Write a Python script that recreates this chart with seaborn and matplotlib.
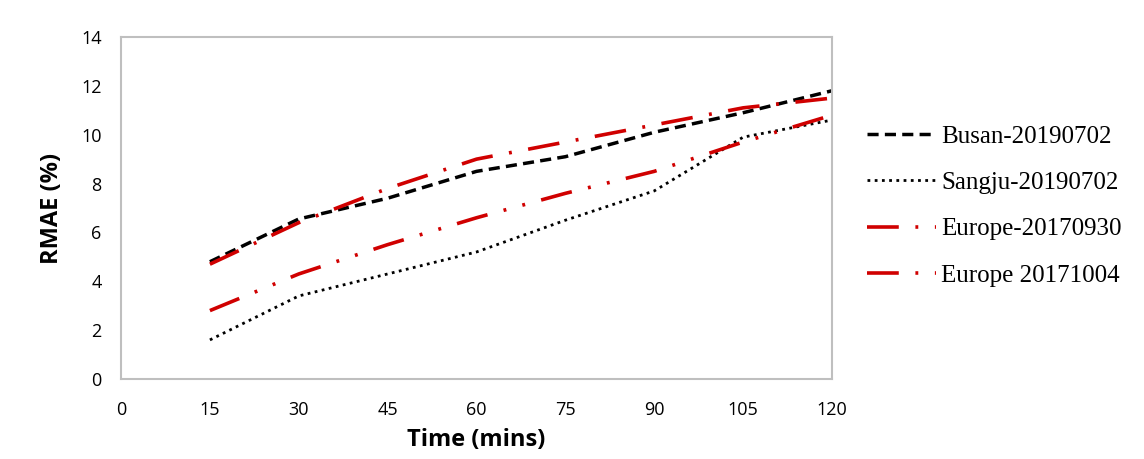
import matplotlib
matplotlib.use("Agg")
import matplotlib.pyplot as plt
import seaborn as sns
import pandas as pd

times = [15, 30, 45, 60, 75, 90, 105, 120]
busan = [4.8, 6.55, 7.4, 8.5, 9.1, 10.1, 10.9, 11.8]
sangju = [1.6, 3.4, 4.3, 5.2, 6.5, 7.7, 9.9, 10.6]
europe_0930 = [2.8, 4.3, 5.5, 6.6, 7.6, 8.5, 9.7, 10.8]
europe_1004 = [4.7, 6.4, 7.8, 9.0, 9.7, 10.4, 11.1, 11.5]
labels = ["Busan-20190702", "Sangju-20190702", "Europe-20170930", "Europe 20171004"]
x_ticks = [0, 15, 30, 45, 60, 75, 90, 105, 120]
y_ticks = [0, 2, 4, 6, 8, 10, 12, 14]

sns.set_theme(style="white")
plt.rcParams['font.family'] = ['Open Sans', 'DejaVu Sans']

fig = plt.figure(figsize=(11.44, 4.59), dpi=100)
ax = fig.add_axes([0.1058, 0.1743, 0.6215, 0.7451])

red = "#D00000"
styles = [
    dict(color="black", lw=2.5, dashes=(3.2, 1.8)),
    dict(color="black", lw=2.0, dashes=(1, 1.6)),
    dict(color=red, lw=2.6, dashes=(8.8, 4.6, 0.8, 4.6, 0.8, 4.6)),
    dict(color=red, lw=2.6, dashes=(8.8, 4.6, 0.8, 4.6)),
]
series = [busan, sangju, europe_0930, europe_1004]
for vals, lab, st in zip(series, labels, styles):
    df = pd.DataFrame({"t": times, "v": vals})
    sns.lineplot(data=df, x="t", y="v", ax=ax, label=lab, color=st["color"],
                 linewidth=st["lw"], dashes=False)
    ax.lines[-1].set_dashes(st["dashes"])

ax.set_xlim(0, 120)
ax.set_ylim(0, 14)
ax.set_xticks(x_ticks)
ax.set_yticks(y_ticks)
ax.tick_params(axis="both", length=0, labelsize=13, colors="black")
ax.tick_params(axis="x", pad=16)
ax.tick_params(axis="y", pad=14)
for s in ax.spines.values():
    s.set_color("#BFBFBF")
    s.set_linewidth(1.5)
ax.set_xlabel("Time (mins)", fontsize=17, fontweight="bold", labelpad=6, color="black")
ax.set_ylabel("RMAE (%)", fontsize=17, fontweight="bold", labelpad=12, color="black")

leg = ax.legend(loc="upper left", bbox_to_anchor=(0.758, 0.727), bbox_transform=fig.transFigure,
                frameon=False, handlelength=2.75, handletextpad=0.22, labelspacing=0.95,
                borderpad=0, borderaxespad=0,
                prop={"family": "Liberation Serif", "size": 18})
for t in leg.get_texts():
    t.set_color("black")

fig.savefig("out.png", dpi=100)
